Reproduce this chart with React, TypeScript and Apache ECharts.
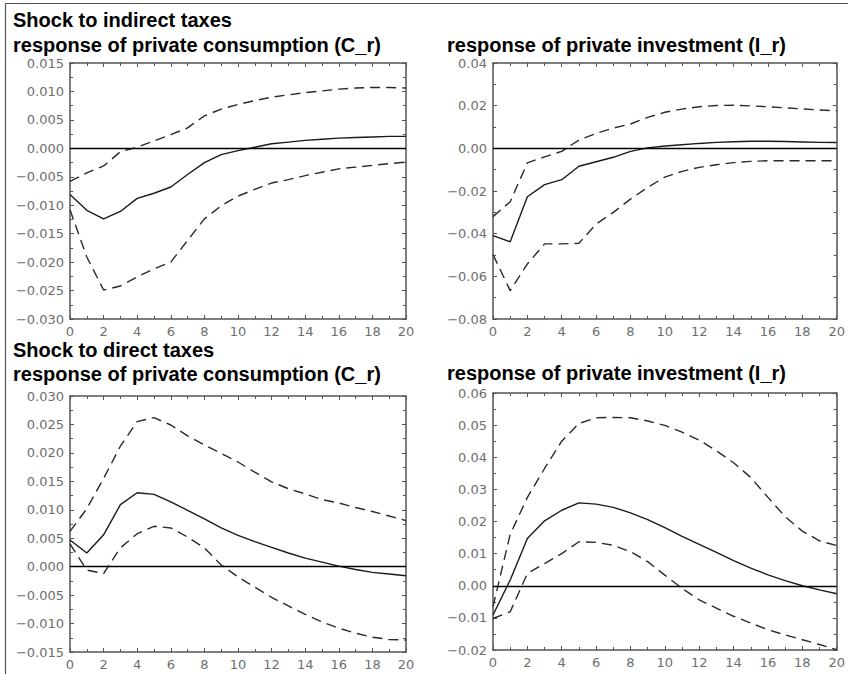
import React, { useEffect, useRef } from "react";
import * as echarts from "echarts";

const horizon = [0, 1, 2, 3, 4, 5, 6, 7, 8, 9, 10, 11, 12, 13, 14, 15, 16, 17, 18, 19, 20];
const xTicks = { min: 0, max: 20, interval: 2 };

// Shock to indirect taxes – private consumption
const indCMean = [-0.0081, -0.0109, -0.0124, -0.0111, -0.0088, -0.0079, -0.0068, -0.0046, -0.0025, -0.0011, -0.0004, 0.0002, 0.0008, 0.0011, 0.0014, 0.0016, 0.0018, 0.0019, 0.002, 0.0021, 0.0021];
const indCUpper = [-0.0058, -0.0043, -0.0031, -0.0006, 0.0002, 0.0013, 0.0024, 0.0036, 0.0057, 0.0069, 0.0077, 0.0084, 0.009, 0.0094, 0.0098, 0.0101, 0.0104, 0.0106, 0.0107, 0.0107, 0.0106];
const indCLower = [-0.0108, -0.0191, -0.0249, -0.0242, -0.0226, -0.0212, -0.02, -0.0162, -0.0124, -0.0101, -0.0084, -0.0072, -0.0061, -0.0055, -0.0048, -0.0042, -0.0036, -0.0033, -0.003, -0.0027, -0.0024];

// Shock to indirect taxes – private investment
const indIMean = [-0.0409, -0.0438, -0.0227, -0.017, -0.0147, -0.0084, -0.0063, -0.0042, -0.0014, 0.0002, 0.0011, 0.0017, 0.0023, 0.0028, 0.0031, 0.0033, 0.0033, 0.0032, 0.003, 0.0028, 0.0027];
const indIUpper = [-0.032, -0.025, -0.0068, -0.004, -0.0014, 0.0039, 0.007, 0.0095, 0.0114, 0.0145, 0.0169, 0.0184, 0.0195, 0.0201, 0.0202, 0.0199, 0.0195, 0.019, 0.0185, 0.018, 0.0176];
const indILower = [-0.0498, -0.0667, -0.0542, -0.0448, -0.0448, -0.0445, -0.0355, -0.03, -0.0238, -0.0183, -0.0135, -0.0108, -0.0089, -0.0077, -0.0067, -0.0061, -0.0058, -0.0058, -0.0058, -0.0058, -0.0058];

// Shock to direct taxes – private consumption
const dirCMean = [0.0047, 0.0024, 0.0056, 0.0109, 0.013, 0.0127, 0.0114, 0.0099, 0.0084, 0.0068, 0.0055, 0.0044, 0.0034, 0.0024, 0.0015, 0.0008, 0.0001, -0.0005, -0.001, -0.0013, -0.0016];
const dirCUpper = [0.0062, 0.0102, 0.0155, 0.0212, 0.0255, 0.0262, 0.0249, 0.023, 0.0214, 0.0199, 0.0184, 0.0166, 0.0149, 0.0137, 0.0128, 0.0118, 0.0112, 0.0104, 0.0097, 0.0089, 0.0081];
const dirCLower = [0.004, -0.0006, -0.0012, 0.0033, 0.0058, 0.0071, 0.0068, 0.0052, 0.0033, 0.0003, -0.0018, -0.0036, -0.0054, -0.0069, -0.0084, -0.0097, -0.0108, -0.0117, -0.0124, -0.0128, -0.0129];

// Shock to direct taxes – private investment
const dirIMean = [-0.0091, 0.0018, 0.0147, 0.0202, 0.0235, 0.0258, 0.0254, 0.0244, 0.0227, 0.0206, 0.0181, 0.0154, 0.0129, 0.0104, 0.0078, 0.0055, 0.0034, 0.0016, 0.0, -0.0013, -0.0025];
const dirIUpper = [-0.0065, 0.016, 0.0275, 0.0365, 0.045, 0.0505, 0.0523, 0.0524, 0.0523, 0.0513, 0.0499, 0.0478, 0.0453, 0.042, 0.0383, 0.0337, 0.0275, 0.0215, 0.017, 0.014, 0.0125];
const dirILower = [-0.0102, -0.0081, 0.0038, 0.0069, 0.01, 0.0137, 0.0135, 0.0126, 0.0106, 0.0075, 0.0033, -0.0008, -0.0044, -0.007, -0.0095, -0.0116, -0.0137, -0.0153, -0.0168, -0.0183, -0.0199];

const panelTitles = [
  "response of private consumption (C_r)",
  "response of private investment (I_r)",
  "response of private consumption (C_r)",
  "response of private investment (I_r)",
];
const shockTitles = ["Shock to indirect taxes", "Shock to direct taxes"];

const yScales = [
  { min: -0.03, max: 0.015, interval: 0.005, decimals: 3 },
  { min: -0.08, max: 0.04, interval: 0.02, decimals: 2 },
  { min: -0.015, max: 0.03, interval: 0.005, decimals: 3 },
  { min: -0.02, max: 0.06, interval: 0.01, decimals: 2 },
];

const panelData = [
  [indCMean, indCUpper, indCLower],
  [indIMean, indIUpper, indILower],
  [dirCMean, dirCUpper, dirCLower],
  [dirIMean, dirIUpper, dirILower],
];

const grids = [
  { left: 70, top: 63, width: 336, height: 256 },
  { left: 493, top: 63, width: 346, height: 256 },
  { left: 70, top: 396, width: 336, height: 256 },
  { left: 493, top: 393, width: 346, height: 257 },
];

const FRAME = "#555";
const LABEL = "#6e6e6e";

function fmt(decimals: number) {
  return (v: number) => {
    const s = (Math.abs(v) < 1e-12 ? 0 : v).toFixed(decimals);
    return s.replace("-", "\u2212");
  };
}

export default function App() {
  const ref = useRef<HTMLDivElement>(null);
  useEffect(() => {
    if (!ref.current) return;
    const chart = echarts.init(ref.current, undefined, { renderer: "svg" });

    const xAxis: any[] = [];
    const yAxis: any[] = [];
    const series: any[] = [];

    grids.forEach((g, gi) => {
      const tickCommon = {
        axisLine: { show: true, onZero: false, lineStyle: { color: FRAME, width: 1.5 } },
        axisTick: { show: true, inside: true, length: 4, lineStyle: { color: FRAME, width: 1 } },
        minorTick: { show: true, splitNumber: 2, length: 3, lineStyle: { color: FRAME, width: 1 } },
        splitLine: { show: false },
        minorSplitLine: { show: false },
      };
      xAxis.push({
        type: "value",
        gridIndex: gi,
        position: "bottom",
        ...xTicks,
        ...tickCommon,
        axisLabel: {
          show: true,
          color: LABEL,
          fontFamily: "DejaVu Sans",
          fontSize: 13,
          margin: 6,
          showMinLabel: true,
          showMaxLabel: true,
        },
      });
      xAxis.push({
        type: "value",
        gridIndex: gi,
        position: "top",
        ...xTicks,
        ...tickCommon,
        axisLabel: { show: false },
      });
      const ys = yScales[gi];
      yAxis.push({
        type: "value",
        gridIndex: gi,
        position: "left",
        min: ys.min,
        max: ys.max,
        interval: ys.interval,
        ...tickCommon,
        axisLabel: {
          show: true,
          color: LABEL,
          fontFamily: "DejaVu Sans",
          fontSize: 13,
          margin: 6,
          showMinLabel: true,
          showMaxLabel: true,
          formatter: fmt(ys.decimals),
        },
      });
      yAxis.push({
        type: "value",
        gridIndex: gi,
        position: "right",
        min: ys.min,
        max: ys.max,
        interval: ys.interval,
        ...tickCommon,
        axisLabel: { show: false },
      });

      const [mean, upper, lower] = panelData[gi];
      const toPairs = (arr: number[]) => arr.map((v, i) => [horizon[i], v]);
      series.push({
        type: "line",
        xAxisIndex: gi * 2,
        yAxisIndex: gi * 2,
        data: toPairs(mean),
        symbol: "none",
        lineStyle: { color: "#1a1a1a", width: 1.4, type: "solid" },
        markLine: {
          silent: true,
          symbol: ["none", "none"],
          label: { show: false },
          lineStyle: { color: "#000", width: 1.3, type: "solid" },
          data: [{ yAxis: 0 }],
        },
      });
      [upper, lower].forEach((band) => {
        series.push({
          type: "line",
          xAxisIndex: gi * 2,
          yAxisIndex: gi * 2,
          data: toPairs(band),
          symbol: "none",
          lineStyle: { color: "#2a2a2a", width: 1.4, type: [10, 6] },
        });
      });
    });

    const titleFont = {
      fontFamily: '"Liberation Sans", Arial, sans-serif',
      fontWeight: "bold",
      fontSize: 20,
      fill: "#000",
      verticalAlign: "middle",
      align: "left",
    };

    const graphic: any[] = [
      {
        type: "rect",
        shape: { x: 5.5, y: 3.5, width: 900, height: 800 },
        style: { fill: "none", stroke: "#555", lineWidth: 1.2 },
        silent: true,
      },
      { type: "text", x: 13, y: 20, style: { ...titleFont, text: shockTitles[0] } },
      { type: "text", x: 13, y: 45, style: { ...titleFont, text: panelTitles[0] } },
      { type: "text", x: 447, y: 45, style: { ...titleFont, text: panelTitles[1] } },
      { type: "text", x: 13, y: 350, style: { ...titleFont, text: shockTitles[1] } },
      { type: "text", x: 13, y: 374, style: { ...titleFont, text: panelTitles[2] } },
      { type: "text", x: 447, y: 373, style: { ...titleFont, text: panelTitles[3] } },
    ];

    chart.setOption({
      animation: false,
      backgroundColor: "#fff",
      grid: grids.map((g) => ({ ...g, containLabel: false })),
      xAxis,
      yAxis,
      series,
      graphic,
    });

    return () => chart.dispose();
  }, []);

  return (
    <div
      ref={ref}
      style={{ position: "fixed", left: 0, top: 0, width: 848, height: 674 }}
    />
  );
}
